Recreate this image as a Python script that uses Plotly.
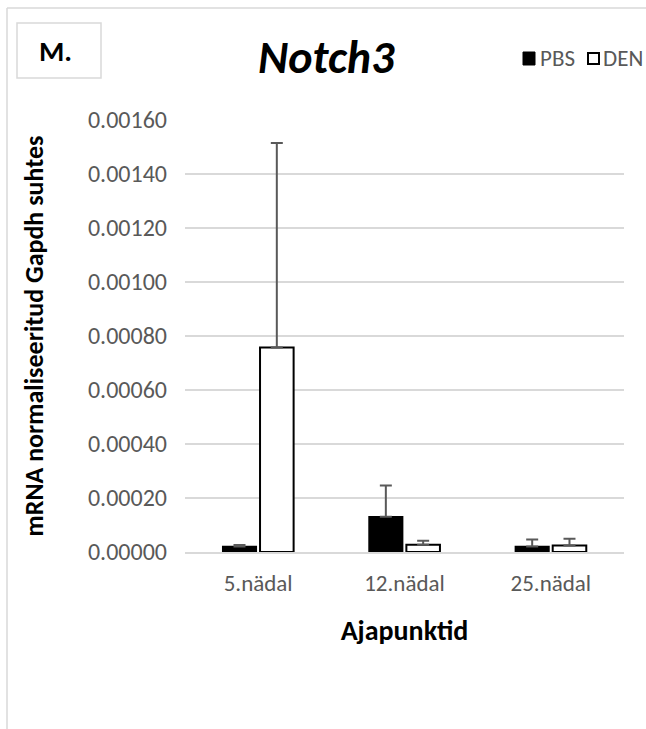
import plotly.graph_objects as go

categories = ["5.nädal", "12.nädal", "25.nädal"]
pbs_values = [0.000020, 0.000131, 0.000020]
pbs_errors = [0.000006, 0.000115, 0.000026]
den_values = [0.000757, 0.000027, 0.000024]
den_errors = [0.000758, 0.000015, 0.000025]
y_ticks = [0.0, 0.0002, 0.0004, 0.0006, 0.0008, 0.0010, 0.0012, 0.0014, 0.0016]
y_ticklabels = ["%.5f" % v for v in y_ticks]
series_names = ["PBS", "DEN"]

FONT = "Calibri, Carlito, Lato, 'Open Sans', sans-serif"
W, H = 646, 729
L, R, T, B = 185, 22, 120, 177
pw, ph = W - L - R, H - T - B

def px(x):
    return (x - L) / pw

def py(y):
    return (H - B - y) / ph

err_style = dict(type="data", symmetric=False, color="#595959", thickness=2, width=6)

fig = go.Figure()
fig.add_trace(go.Bar(
    name=series_names[0], x=categories, y=pbs_values,
    marker=dict(color="black", line=dict(color="black", width=1.5)),
    error_y=dict(array=pbs_errors, arrayminus=[0, 0, 0], **err_style),
))
fig.add_trace(go.Bar(
    name=series_names[1], x=categories, y=den_values,
    marker=dict(color="white", line=dict(color="black", width=2)),
    error_y=dict(array=den_errors, arrayminus=[0, 0, 0], **err_style),
))

fig.update_layout(
    width=W, height=H,
    margin=dict(l=L, r=R, t=T, b=B, autoexpand=False),
    paper_bgcolor="white", plot_bgcolor="white",
    font=dict(family=FONT, color="#595959"),
    barmode="group", bargap=0.49, bargroupgap=0.1,
    showlegend=False,
    xaxis=dict(showgrid=False, showline=True, linecolor="#d9d9d9", linewidth=1.5,
               tickfont=dict(size=23, color="#595959"), ticks="", ticklabelstandoff=10,
               automargin=False,
               title=dict(text="<b>Ajapunktid</b>", font=dict(size=28, color="black"), standoff=24)),
    yaxis=dict(range=[0, 0.0016], tickvals=y_ticks, ticktext=y_ticklabels,
               showgrid=True, gridcolor="#d9d9d9", gridwidth=1.5,
               zeroline=False, showline=False, ticks="", ticklabelstandoff=17,
               automargin=False,
               tickfont=dict(size=24, color="#595959"),
               title=dict(text="<b>mRNA normaliseeritud Gapdh suhtes</b>",
                          font=dict(size=26, color="black"), standoff=36)),
)

fig.add_annotation(text="<b><i>Notch3</i></b>", xref="paper", yref="paper",
                   x=px(326), y=py(57), xanchor="center", yanchor="middle",
                   showarrow=False, font=dict(size=46, color="black", family=FONT))
# panel label box
fig.add_shape(type="rect", xref="paper", yref="paper",
              x0=px(17), x1=px(101), y0=py(78), y1=py(23),
              line=dict(color="#d9d9d9", width=1.5), fillcolor="white")
fig.add_annotation(text="<b>M.</b>", xref="paper", yref="paper",
                   x=px(55), y=py(51), xanchor="center", yanchor="middle",
                   showarrow=False, font=dict(size=29, color="black", family=FONT))
# legend
fig.add_shape(type="rect", xref="paper", yref="paper",
              x0=px(523), x1=px(535), y0=py(65), y1=py(52),
              line=dict(color="black", width=1), fillcolor="black")
fig.add_annotation(text=series_names[0], xref="paper", yref="paper",
                   x=px(538), y=py(58), xanchor="left", yanchor="middle",
                   showarrow=False, font=dict(size=23, color="#595959", family=FONT))
fig.add_shape(type="rect", xref="paper", yref="paper",
              x0=px(588), x1=px(599), y0=py(64), y1=py(53),
              line=dict(color="black", width=2), fillcolor="white")
fig.add_annotation(text=series_names[1], xref="paper", yref="paper",
                   x=px(601), y=py(58), xanchor="left", yanchor="middle",
                   showarrow=False, font=dict(size=23, color="#595959", family=FONT))
# outer chart frame
fig.add_shape(type="line", xref="paper", yref="paper",
              x0=px(7), x1=px(646), y0=py(8), y1=py(8),
              line=dict(color="#d9d9d9", width=1.5))
fig.add_shape(type="line", xref="paper", yref="paper",
              x0=px(7), x1=px(7), y0=py(8), y1=py(729),
              line=dict(color="#d9d9d9", width=1.5))

fig.write_html("out.html")
